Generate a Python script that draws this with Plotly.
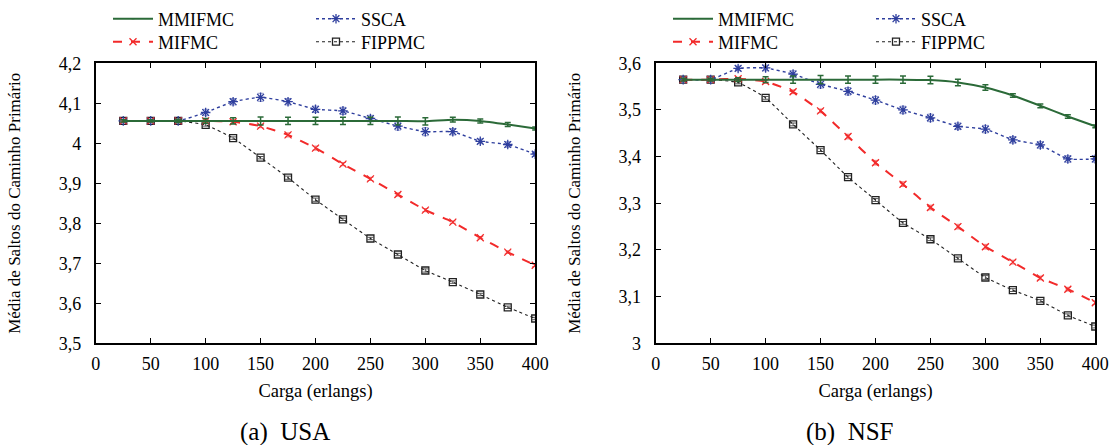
import plotly.graph_objects as go

# ---------------- data ----------------
carga = [25, 50, 75, 100, 125, 150, 175, 200, 225, 250, 275, 300, 325, 350, 375, 400]

# (a) USA
usa_mmifmc = [4.056, 4.056, 4.056, 4.056, 4.056, 4.056, 4.056, 4.056, 4.056, 4.056, 4.056, 4.055, 4.059, 4.056, 4.047, 4.037]
usa_ssca = [4.056, 4.056, 4.056, 4.077, 4.104, 4.115, 4.104, 4.085, 4.081, 4.062, 4.043, 4.029, 4.029, 4.005, 3.997, 3.973]
usa_mifmc = [4.056, 4.056, 4.056, 4.056, 4.054, 4.043, 4.021, 3.988, 3.948, 3.911, 3.872, 3.833, 3.803, 3.764, 3.728, 3.695]
usa_fippmc = [4.056, 4.056, 4.056, 4.046, 4.013, 3.964, 3.914, 3.859, 3.810, 3.762, 3.722, 3.682, 3.653, 3.622, 3.590, 3.562]
usa_err_mmifmc = [0.003, 0.003, 0.004, 0.006, 0.008, 0.010, 0.009, 0.009, 0.009, 0.009, 0.010, 0.009, 0.006, 0.005, 0.005, 0.004]
usa_err_ssca = [0.003, 0.003, 0.004, 0.008, 0.008, 0.010, 0.008, 0.008, 0.009, 0.008, 0.010, 0.010, 0.008, 0.006, 0.007, 0.006]
usa_err_mifmc = [0.002, 0.002, 0.002, 0.003, 0.004, 0.004, 0.005, 0.005, 0.004, 0.004, 0.004, 0.004, 0.003, 0.003, 0.003, 0.003]
usa_err_fippmc = [0.002, 0.002, 0.002, 0.003, 0.003, 0.003, 0.004, 0.004, 0.003, 0.003, 0.003, 0.004, 0.003, 0.003, 0.003, 0.003]

# (b) NSF
nsf_mmifmc = [3.565, 3.565, 3.565, 3.565, 3.565, 3.565, 3.565, 3.565, 3.565, 3.564, 3.559, 3.548, 3.531, 3.509, 3.486, 3.465]
nsf_ssca = [3.565, 3.565, 3.589, 3.590, 3.577, 3.555, 3.540, 3.521, 3.500, 3.483, 3.465, 3.459, 3.436, 3.425, 3.395, 3.395]
nsf_mifmc = [3.565, 3.565, 3.567, 3.561, 3.539, 3.498, 3.443, 3.387, 3.341, 3.291, 3.250, 3.207, 3.174, 3.140, 3.116, 3.087]
nsf_fippmc = [3.565, 3.565, 3.559, 3.526, 3.469, 3.414, 3.356, 3.307, 3.258, 3.223, 3.182, 3.141, 3.114, 3.091, 3.060, 3.036]
nsf_err_mmifmc = [0.003, 0.003, 0.004, 0.006, 0.008, 0.009, 0.008, 0.008, 0.008, 0.008, 0.007, 0.006, 0.004, 0.004, 0.004, 0.003]
nsf_err_ssca = [0.003, 0.003, 0.005, 0.006, 0.007, 0.008, 0.008, 0.008, 0.008, 0.008, 0.007, 0.008, 0.007, 0.007, 0.007, 0.007]
nsf_err_mifmc = [0.002, 0.002, 0.003, 0.004, 0.004, 0.004, 0.005, 0.005, 0.005, 0.005, 0.005, 0.005, 0.004, 0.004, 0.004, 0.004]
nsf_err_fippmc = [0.002, 0.002, 0.003, 0.003, 0.003, 0.003, 0.003, 0.003, 0.003, 0.003, 0.003, 0.004, 0.003, 0.003, 0.003, 0.003]

x_ticks = [0, 50, 100, 150, 200, 250, 300, 350, 400]
usa_yticks = [3.5, 3.6, 3.7, 3.8, 3.9, 4.0, 4.1, 4.2]
usa_ytext = ["3,5", "3,6", "3,7", "3,8", "3,9", "4", "4,1", "4,2"]
nsf_yticks = [3.0, 3.1, 3.2, 3.3, 3.4, 3.5, 3.6]
nsf_ytext = ["3", "3,1", "3,2", "3,3", "3,4", "3,5", "3,6"]

series_names = ["MMIFMC", "SSCA", "MIFMC", "FIPPMC"]
x_title = "Carga (erlangs)"
y_title = "Média de Saltos do Caminho Primário"
captions = ["(a)  USA", "(b)  NSF"]

# ---------------- styles ----------------
FONT = "Liberation Serif"
W, H = 1117, 445
styles = {
    "MMIFMC": dict(color="#2b6a38", dash="solid", width=2.0, symbol="line-ew", size=1, ecolor="#2b6a38", ew=1.5),
    "MIFMC": dict(color="#f22a2a", dash="dash", width=2.0, symbol="x-thin-open", size=7, ecolor="#f47a7a", ew=1.0),
    "SSCA": dict(color="#2f3f9e", dash="dot", width=1.4, symbol="asterisk-open", size=8, ecolor="#8f98cc", ew=1.0),
    "FIPPMC": dict(color="#222222", dash="dot", width=1.1, symbol="square-open", size=7, ecolor="#555555", ew=1.0),
}
# legend rows (gnuplot-like 2x2 key): row 1 = MMIFMC, SSCA ; row 2 = MIFMC, FIPPMC
row_of = {"MMIFMC": 0, "SSCA": 0, "MIFMC": 1, "FIPPMC": 1}
rank_of = {"MMIFMC": 1, "SSCA": 2, "MIFMC": 1, "FIPPMC": 2}

fig = go.Figure()

panels = [
    dict(x="x", y="y", data={"MMIFMC": (usa_mmifmc, usa_err_mmifmc), "MIFMC": (usa_mifmc, usa_err_mifmc),
                            "SSCA": (usa_ssca, usa_err_ssca), "FIPPMC": (usa_fippmc, usa_err_fippmc)},
         legends=["legend", "legend2"]),
    dict(x="x2", y="y2", data={"MMIFMC": (nsf_mmifmc, nsf_err_mmifmc), "MIFMC": (nsf_mifmc, nsf_err_mifmc),
                              "SSCA": (nsf_ssca, nsf_err_ssca), "FIPPMC": (nsf_fippmc, nsf_err_fippmc)},
         legends=["legend3", "legend4"]),
]

draw_order = ["FIPPMC", "SSCA", "MIFMC", "MMIFMC"]
for p in panels:
    for name in draw_order:
        vals, errs = p["data"][name]
        st = styles[name]
        fig.add_trace(go.Scatter(
            x=carga, y=vals, name=name, xaxis=p["x"], yaxis=p["y"],
            mode="lines+markers",
            line=dict(color=st["color"], dash=st["dash"], width=st["width"], shape="spline", smoothing=0.4),
            marker=dict(symbol=st["symbol"], size=st["size"], color=st["color"],
                        line=dict(color=st["color"], width=1.3)),
            error_y=dict(type="data", array=errs, visible=True, color=st["ecolor"],
                         thickness=st["ew"], width=3),
            legend=p["legends"][row_of[name]],
            legendrank=rank_of[name],
        ))

def px_x(v):
    return v / W

def px_y(v):
    return 1 - v / H

axis_common = dict(
    showline=True, linewidth=2, linecolor="black", mirror="allticks",
    ticks="inside", ticklen=5, tickwidth=1.2, tickcolor="black",
    showgrid=False, zeroline=False, automargin=False,
    tickfont=dict(family=FONT, size=18, color="black"),
)

y_dom = [px_y(343.3), px_y(63.3)]
fig.update_layout(
    width=W, height=H,
    margin=dict(l=0, r=0, t=0, b=0, autoexpand=False),
    paper_bgcolor="white", plot_bgcolor="white",
    font=dict(family=FONT, color="black"),
    showlegend=True,
    xaxis=dict(domain=[px_x(95.8), px_x(535.2)], range=[0, 400], tickvals=x_ticks, anchor="y",
               ticklabelstandoff=3,
               title=dict(text=x_title, font=dict(family=FONT, size=18.5), standoff=11), **axis_common),
    yaxis=dict(domain=y_dom, range=[3.5, 4.2], tickvals=usa_yticks, ticktext=usa_ytext, anchor="x",
               ticklabelstandoff=9,
               title=dict(text=y_title, font=dict(family=FONT, size=17), standoff=34), **axis_common),
    xaxis2=dict(domain=[px_x(655.7), px_x(1095.3)], range=[0, 400], tickvals=x_ticks, anchor="y2",
                ticklabelstandoff=3,
                title=dict(text=x_title, font=dict(family=FONT, size=18.5), standoff=11), **axis_common),
    yaxis2=dict(domain=y_dom, range=[3.0, 3.6], tickvals=nsf_yticks, ticktext=nsf_ytext, anchor="x2",
                ticklabelstandoff=9,
                title=dict(text=y_title, font=dict(family=FONT, size=17), standoff=34), **axis_common),
)

leg_common = dict(orientation="h", bgcolor="rgba(0,0,0,0)", borderwidth=0,
                  font=dict(family=FONT, size=18, color="black"),
                  xanchor="left", yanchor="middle", itemwidth=40,
                  entrywidth=148, entrywidthmode="pixels")
row_y = [19, 42]
fig.update_layout(
    legend=dict(x=px_x(108), y=px_y(row_y[0]), **leg_common),
    legend2=dict(x=px_x(108), y=px_y(row_y[1]), **leg_common),
    legend3=dict(x=px_x(668), y=px_y(row_y[0]), **leg_common),
    legend4=dict(x=px_x(668), y=px_y(row_y[1]), **leg_common),
)

for cx, txt in zip([285, 850], captions):
    fig.add_annotation(x=px_x(cx), y=px_y(432), xref="paper", yref="paper", text=txt,
                       showarrow=False, xanchor="center", yanchor="middle",
                       font=dict(family=FONT, size=25, color="black"))

fig.write_html("out.html", config={"displayModeBar": False},
               post_script="document.body.style.margin='0';document.body.style.overflow='hidden';")
